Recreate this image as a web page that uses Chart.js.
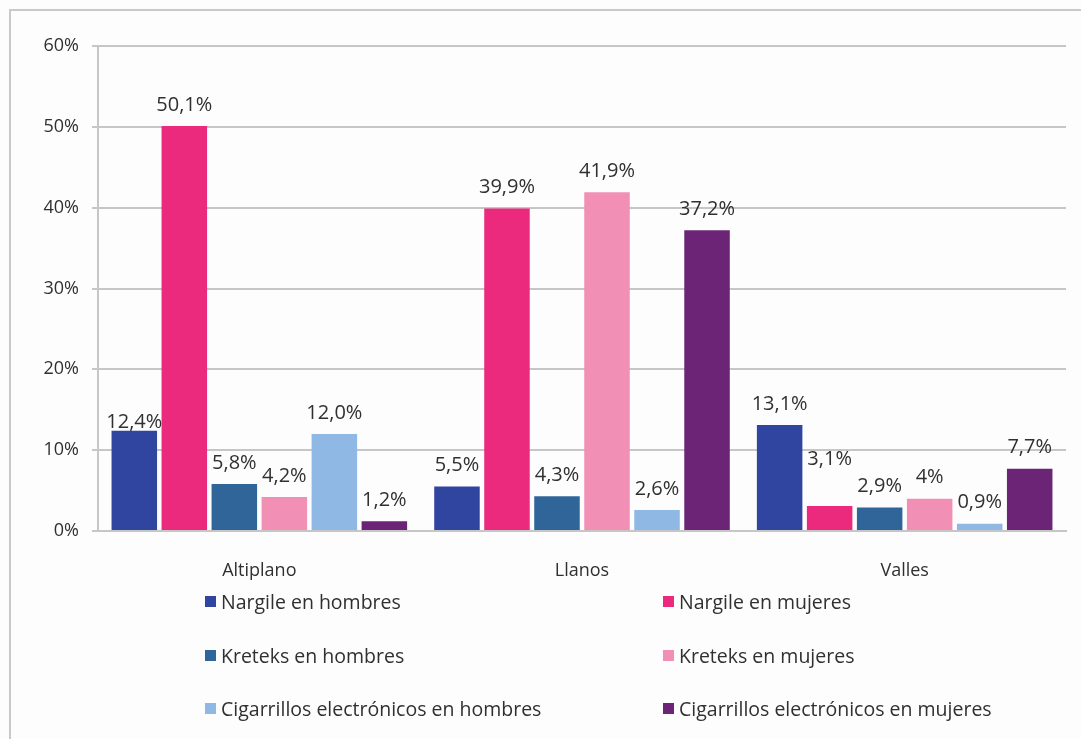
<!DOCTYPE html>
<html>
<head>
<meta charset="utf-8">
<script src="https://cdn.jsdelivr.net/npm/chart.js@4/dist/chart.umd.min.js"></script>
<style>
  html, body { margin: 0; padding: 0; background: #ffffff; }
  #wrap { position: relative; width: 1081px; height: 739px; overflow: hidden; background: #fdfdfd; }
  #frame { position: absolute; left: 9px; top: 9px; width: 1100px; height: 760px;
           border-top: 2px solid #c9c9c9; border-left: 2px solid #c9c9c9; }
  canvas { position: absolute; left: 0; top: 0; }
  #legend { position: absolute; left: 0; top: 0; width: 1081px; height: 739px; pointer-events: none; }
  .item { position: absolute; display: flex; align-items: center; font-family: "Open Sans", sans-serif;
          font-size: 19.5px; color: #303030; white-space: nowrap; }
  .box { width: 11px; height: 11px; margin-right: 5px; }
</style>
</head>
<body>
<div id="wrap">
  <div id="frame"></div>
  <canvas id="c" width="1081" height="739"></canvas>
  <div id="legend"></div>
</div>
<script>
// ---- data ----
const categories = ["Altiplano", "Llanos", "Valles"];
const seriesNames = [
  "Nargile en hombres",
  "Nargile en mujeres",
  "Kreteks en hombres",
  "Kreteks en mujeres",
  "Cigarrillos electrónicos en hombres",
  "Cigarrillos electrónicos en mujeres"
];
const nargileHombres = [12.4, 5.5, 13.1];
const nargileMujeres = [50.1, 39.9, 3.1];
const kreteksHombres = [5.8, 4.3, 2.9];
const kreteksMujeres = [4.2, 41.9, 4.0];
const cigarrillosHombres = [12.0, 2.6, 0.9];
const cigarrillosMujeres = [1.2, 37.2, 7.7];
const valueLabels = [
  ["12,4%", "5,5%", "13,1%"],
  ["50,1%", "39,9%", "3,1%"],
  ["5,8%", "4,3%", "2,9%"],
  ["4,2%", "41,9%", "4%"],
  ["12,0%", "2,6%", "0,9%"],
  ["1,2%", "37,2%", "7,7%"]
];
const yTickLabels = ["0%", "10%", "20%", "30%", "40%", "50%", "60%"];

// ---- style ----
const colors = ["#2f45a0", "#eb2a7d", "#30659a", "#f28fb5", "#8fb8e5", "#6c2476"];
// vertical nudges (px) for a few labels placed by hand in the original
const labelNudge = [[13, 0, 0], [0, 0, -26], [0, 0, 0], [0, 0, 0], [0, 0, 0], [0, 0, 0]];

const seriesValues = [nargileHombres, nargileMujeres, kreteksHombres, kreteksMujeres, cigarrillosHombres, cigarrillosMujeres];

const datasets = seriesValues.map((vals, i) => ({
  label: seriesNames[i],
  data: vals,
  backgroundColor: colors[i],
  borderWidth: 0,
  categoryPercentage: 0.93,
  barPercentage: 0.91
}));

const textColor = "#303030";

const valueLabelPlugin = {
  id: "valueLabels",
  afterDatasetsDraw(chart) {
    const ctx = chart.ctx;
    ctx.save();
    ctx.font = '20px "Open Sans", sans-serif';
    ctx.fillStyle = textColor;
    ctx.textAlign = "center";
    ctx.textBaseline = "middle";
    chart.data.datasets.forEach((ds, i) => {
      const meta = chart.getDatasetMeta(i);
      meta.data.forEach((bar, j) => {
        ctx.fillText(valueLabels[i][j], bar.x, bar.y - 21 + labelNudge[i][j]);
      });
    });
    ctx.restore();
  }
};

const gridColor = "#c6c6c6";

const chart = new Chart(document.getElementById("c"), {
  type: "bar",
  data: { labels: categories, datasets },
  options: {
    responsive: false,
    animation: false,
    layout: { padding: { top: 46, left: 0, right: 15, bottom: 0 } },
    plugins: { legend: { display: false }, tooltip: { enabled: false } },
    scales: {
      x: {
        grid: { display: false, drawTicks: false },
        border: { display: true, color: gridColor, width: 2 },
        ticks: {
          padding: 29,
          color: textColor,
          font: { family: "Open Sans", size: 18 }
        },
        afterFit(scale) { scale.height = 739 - 531; }
      },
      y: {
        min: 0,
        max: 60,
        ticks: {
          stepSize: 10,
          padding: 13,
          color: textColor,
          font: { family: "Open Sans", size: 18 },
          callback: (v) => yTickLabels[Math.round(v / 10)]
        },
        grid: { color: gridColor, lineWidth: 2, tickLength: 6, tickColor: gridColor },
        border: { display: true, color: gridColor, width: 2 },
        afterFit(scale) { scale.width = 98; }
      }
    }
  },
  plugins: [valueLabelPlugin]
});

// ---- HTML legend built from the chart's datasets ----
const legendEl = document.getElementById("legend");
const colX = [205, 663];
const rowY = [601, 655, 708];
chart.data.datasets.forEach((ds, i) => {
  const item = document.createElement("div");
  item.className = "item";
  item.style.left = colX[i % 2] + "px";
  item.style.top = (rowY[Math.floor(i / 2)] - 14) + "px";
  item.style.height = "28px";
  const box = document.createElement("span");
  box.className = "box";
  box.style.background = ds.backgroundColor;
  const txt = document.createElement("span");
  txt.textContent = ds.label;
  item.appendChild(box);
  item.appendChild(txt);
  legendEl.appendChild(item);
});
</script>
</body>
</html>
